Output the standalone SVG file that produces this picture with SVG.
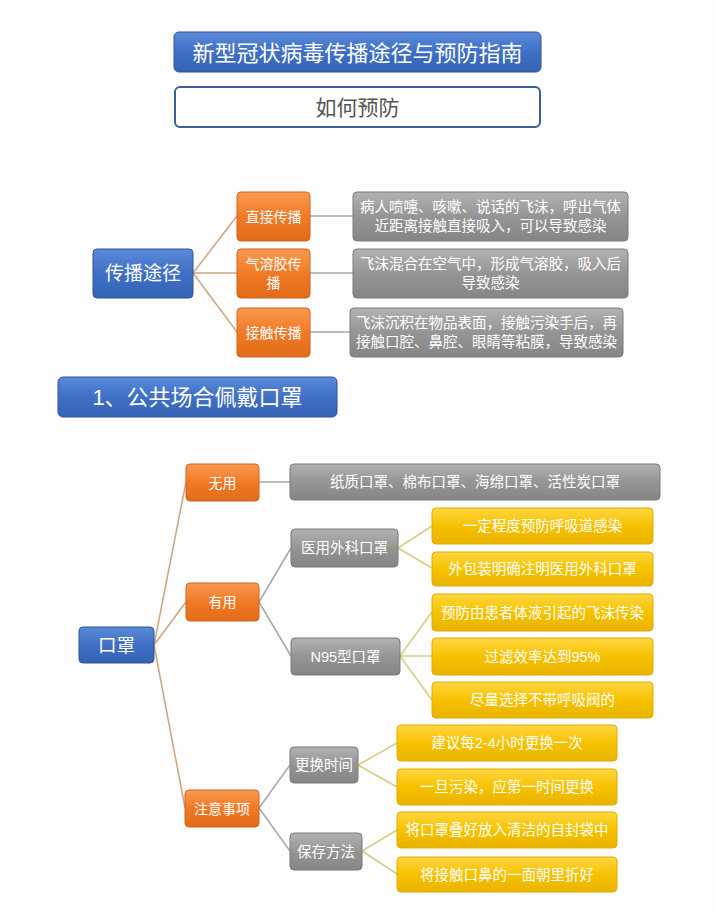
<svg xmlns="http://www.w3.org/2000/svg" width="716" height="913" viewBox="0 0 716 913">
<defs>
<linearGradient id="gBlue" x1="0" y1="0" x2="0" y2="1"><stop offset="0" stop-color="#5A8AD8"/><stop offset="0.5" stop-color="#3F70C6"/><stop offset="1" stop-color="#3563B4"/></linearGradient>
<linearGradient id="gOrange" x1="0" y1="0" x2="0" y2="1"><stop offset="0" stop-color="#FA9A50"/><stop offset="0.5" stop-color="#F07A26"/><stop offset="1" stop-color="#E26A18"/></linearGradient>
<linearGradient id="gGray" x1="0" y1="0" x2="0" y2="1"><stop offset="0" stop-color="#B2B2B2"/><stop offset="0.5" stop-color="#959595"/><stop offset="1" stop-color="#858585"/></linearGradient>
<linearGradient id="gYellow" x1="0" y1="0" x2="0" y2="1"><stop offset="0" stop-color="#FFD640"/><stop offset="0.5" stop-color="#F6C200"/><stop offset="1" stop-color="#EAB300"/></linearGradient>
</defs>
<style>
text{font-family:"Liberation Sans","Noto Sans CJK SC",sans-serif;text-anchor:middle;dominant-baseline:central;fill:#fff}
.blue{fill:url(#gBlue);stroke:#2F5597;stroke-width:1}
.orange{fill:url(#gOrange);stroke:#D0651C;stroke-width:1}
.gray{fill:url(#gGray);stroke:#7A7A7A;stroke-width:1}
.yellow{fill:url(#gYellow);stroke:#E0AE00;stroke-width:1}
.t14{font-size:14.5px}
.t15{font-size:14px}
.l1{stroke:#CFA57E;stroke-width:1.5;fill:none}
.l2{stroke:#A8A8A8;stroke-width:1.5;fill:none}
.l3{stroke:#D9CD7E;stroke-width:1.5;fill:none}
</style>
<rect width="716" height="913" fill="#FDFDFD"/>
<g id="title"><rect class="blue" x="174" y="32" width="367" height="40" rx="5"/><text x="357.5" y="53" font-size="22">新型冠状病毒传播途径与预防指南</text></g>
<g id="subtitle"><rect x="175" y="87" width="365" height="40" rx="5" fill="#fff" stroke="#3A5D9C" stroke-width="2"/><text x="357.5" y="107" font-size="21" style="fill:#555">如何预防</text></g>

<g id="connectors">
<path class="l1" d="M193 273 L237 216 M193 273 L237 273 M193 273 L237 332"/>
<path class="l2" d="M310 216 L353 216 M310 273 L353 273 M310 332 L350 332"/>
<path class="l1" d="M154 645 L186 482 M154 645 L186 602 M154 645 L185 808"/>
<path class="l2" d="M259 482 L290 482 M259 602 L291 548 M259 602 L291 656 M259 808 L290 765 M259 808 L290 851"/>
<path class="l3" d="M398 548 L432 526 M398 548 L432 568 M400 656 L432 612 M400 656 L432 656 M400 656 L432 700 M358 765 L397 743 M358 765 L397 787 M362 851 L397 830 M362 851 L397 874"/>
</g>

<g id="n-chuanbo"><rect class="blue" x="93" y="249" width="100" height="49" rx="4"/><text x="143" y="273.5" font-size="19">传播途径</text></g>
<g id="n-zhijie"><rect class="orange" x="237" y="192" width="73" height="49" rx="4"/><text class="t15" x="273.5" y="216.5">直接传播</text></g>
<g id="n-qirongjiao"><rect class="orange" x="237" y="249" width="73" height="49" rx="4"/><text class="t15" x="273.5" y="264">气溶胶传</text><text class="t15" x="273.5" y="283">播</text></g>
<g id="n-jiechu"><rect class="orange" x="237" y="308" width="73" height="49" rx="4"/><text class="t15" x="273.5" y="332.5">接触传播</text></g>
<g id="d-zhijie"><rect class="gray" x="353" y="192" width="275" height="49" rx="4"/><text class="t14" x="490.5" y="207">病人喷嚏、咳嗽、说话的飞沫，呼出气体</text><text class="t14" x="490.5" y="226">近距离接触直接吸入，可以导致感染</text></g>
<g id="d-qirongjiao"><rect class="gray" x="353" y="249" width="275" height="49" rx="4"/><text class="t14" x="490.5" y="264">飞沫混合在空气中，形成气溶胶，吸入后</text><text class="t14" x="490.5" y="283">导致感染</text></g>
<g id="d-jiechu"><rect class="gray" x="350" y="308" width="273" height="49" rx="4"/><text class="t14" x="486.5" y="323">飞沫沉积在物品表面，接触污染手后，再</text><text class="t14" x="486.5" y="342">接触口腔、鼻腔、眼睛等粘膜，导致感染</text></g>

<g id="banner"><rect class="blue" x="58" y="377" width="279" height="40" rx="5"/><text x="197.5" y="397" font-size="22">1、公共场合佩戴口罩</text></g>

<g id="n-kouzhao"><rect class="blue" x="79" y="627" width="75" height="36" rx="4"/><text x="116.5" y="645" font-size="18.5">口罩</text></g>
<g id="n-wuyong"><rect class="orange" x="186" y="464" width="73" height="37" rx="4"/><text class="t15" x="222.5" y="482.5">无用</text></g>
<g id="n-youyong"><rect class="orange" x="186" y="583" width="73" height="38" rx="4"/><text class="t15" x="222.5" y="602">有用</text></g>
<g id="n-zhuyi"><rect class="orange" x="185" y="790" width="74" height="37" rx="4"/><text class="t15" x="222" y="808.5">注意事项</text></g>
<g id="d-wuyong"><rect class="gray" x="290" y="464" width="370" height="36" rx="4"/><text class="t14" x="475" y="482">纸质口罩、棉布口罩、海绵口罩、活性炭口罩</text></g>
<g id="n-yiyong"><rect class="gray" x="291" y="529" width="107" height="38" rx="4"/><text class="t14" x="344.5" y="548">医用外科口罩</text></g>
<g id="n-n95"><rect class="gray" x="291" y="638" width="109" height="37" rx="4"/><text class="t14" x="345.5" y="656.5">N95型口罩</text></g>
<g id="n-genghuan"><rect class="gray" x="290" y="747" width="68" height="36" rx="4"/><text class="t14" x="324" y="765">更换时间</text></g>
<g id="n-baocun"><rect class="gray" x="290" y="833" width="72" height="37" rx="4"/><text class="t14" x="326" y="851.5">保存方法</text></g>

<g id="y1"><rect class="yellow" x="432" y="508" width="221" height="36" rx="4"/><text class="t14" x="542.5" y="526">一定程度预防呼吸道感染</text></g>
<g id="y2"><rect class="yellow" x="432" y="552" width="221" height="34" rx="4"/><text class="t14" x="542.5" y="569">外包装明确注明医用外科口罩</text></g>
<g id="y3"><rect class="yellow" x="432" y="594" width="221" height="37" rx="4"/><text class="t14" x="542.5" y="612.5">预防由患者体液引起的飞沫传染</text></g>
<g id="y4"><rect class="yellow" x="432" y="638" width="221" height="37" rx="4"/><text class="t14" x="542.5" y="656.5">过滤效率达到95%</text></g>
<g id="y5"><rect class="yellow" x="432" y="682" width="221" height="36" rx="4"/><text class="t14" x="542.5" y="700">尽量选择不带呼吸阀的</text></g>
<g id="y6"><rect class="yellow" x="397" y="725" width="220" height="36" rx="4"/><text class="t14" x="507" y="743">建议每2-4小时更换一次</text></g>
<g id="y7"><rect class="yellow" x="397" y="769" width="220" height="36" rx="4"/><text class="t14" x="507" y="787">一旦污染，应第一时间更换</text></g>
<g id="y8"><rect class="yellow" x="397" y="812" width="220" height="36" rx="4"/><text class="t14" x="507" y="830">将口罩叠好放入清洁的自封袋中</text></g>
<g id="y9"><rect class="yellow" x="397" y="857" width="220" height="35" rx="4"/><text class="t14" x="507" y="874.5">将接触口鼻的一面朝里折好</text></g>
</svg>
